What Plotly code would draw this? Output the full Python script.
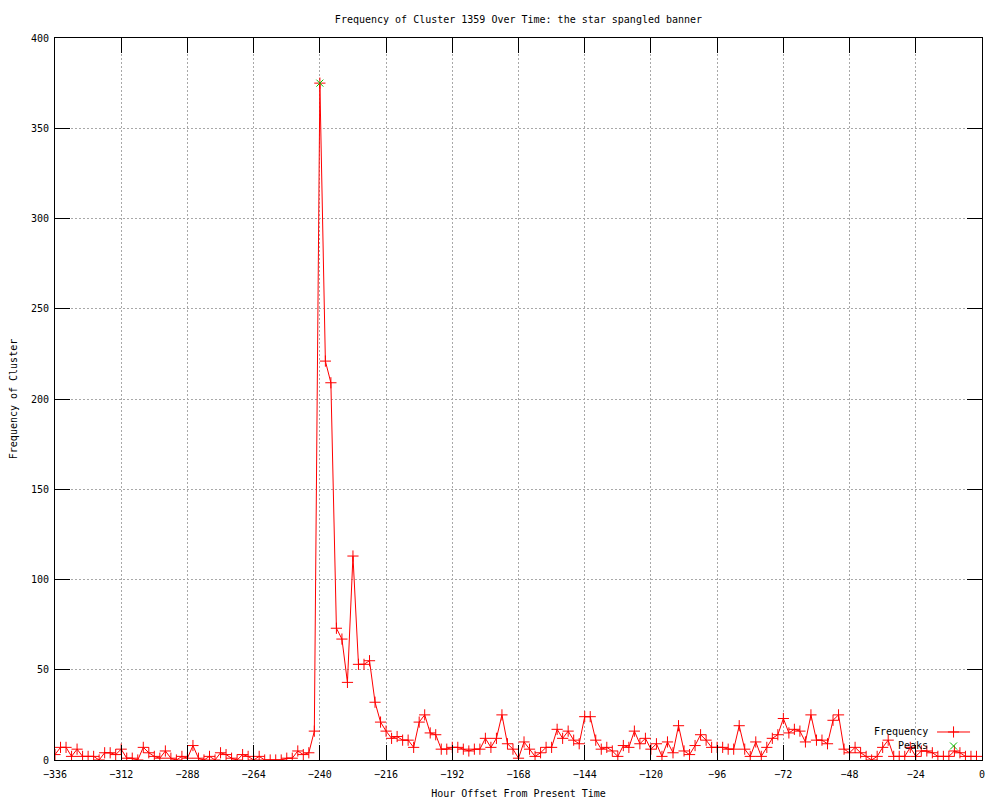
import plotly.graph_objects as go

# hour offsets (2-hour bins) and cluster counts
hours = list(range(-336, 0, 2))
freq = [3, 7, 7, 2, 6, 2, 2, 2, 0, 4, 4, 3, 6, 1, 1, 0, 7, 4, 2, 1,
        5, 1, 0, 2, 1, 8, 1, 0, 2, 0, 4, 3, 1, 0, 3, 2, 0, 2, 0, 0,
        0, 0, 1, 1, 5, 3, 4, 16, 375, 221, 209, 73, 67, 43, 113, 53, 53, 55, 32, 21,
        16, 12, 13, 11, 11, 7, 21, 25, 15, 14, 6, 6, 7, 7, 6, 5, 6, 6, 12, 7,
        12, 25, 9, 6, 1, 10, 6, 2, 4, 7, 7, 17, 12, 16, 11, 9, 24, 24, 11, 6,
        7, 5, 2, 8, 7, 16, 9, 12, 6, 9, 2, 10, 4, 19, 5, 3, 8, 14, 11, 7,
        7, 7, 6, 6, 19, 6, 2, 10, 2, 7, 12, 14, 23, 15, 17, 16, 10, 25, 11, 11,
        9, 22, 25, 6, 4, 7, 4, 2, 0, 2, 7, 11, 2, 2, 2, 7, 2, 5, 5, 4,
        2, 2, 2, 5, 4, 2, 2, 2]

peak_hours = [-240]
peak_freq = [375]

x_ticks = list(range(-336, 1, 24))
y_ticks = list(range(0, 401, 50))

FONT = "DejaVu Sans Mono"
RED = "#ff0000"
GREEN = "#00c000"

red_plus = dict(symbol="cross-thin-open", size=8, color=RED, line=dict(color=RED, width=1))
green_x = dict(symbol="x-thin-open", size=7, color=GREEN, line=dict(color=GREEN, width=1))

fig = go.Figure()

fig.add_trace(go.Scatter(
    x=hours, y=freq, mode="lines+markers", name="Frequency",
    line=dict(color=RED, width=1), marker=red_plus, showlegend=False))

fig.add_trace(go.Scatter(
    x=peak_hours, y=peak_freq, mode="markers", name="Peaks",
    marker=green_x, showlegend=False))

# gnuplot-style key: text on the left, sample on the right (paper coords on hidden axes)
key_y = [0.0388, 0.0194]
key_x0, key_x1 = 0.9515, 0.9871
key_mid = (key_x0 + key_x1) / 2
fig.add_trace(go.Scatter(
    x=[key_x0, key_mid, key_x1], y=[key_y[0]] * 3, xaxis="x2", yaxis="y2",
    mode="lines", line=dict(color=RED, width=1), showlegend=False,
    hoverinfo="skip", cliponaxis=False))
fig.add_trace(go.Scatter(
    x=[key_mid], y=[key_y[0]], xaxis="x2", yaxis="y2", mode="markers",
    marker=red_plus, showlegend=False, hoverinfo="skip", cliponaxis=False))
fig.add_trace(go.Scatter(
    x=[key_mid], y=[key_y[1]], xaxis="x2", yaxis="y2", mode="markers",
    marker=green_x, showlegend=False, hoverinfo="skip", cliponaxis=False))

for label, ky in zip(["Frequency", "Peaks"], key_y):
    fig.add_annotation(x=0.9439, y=ky, xref="paper", yref="paper", text=label,
                       showarrow=False, xanchor="right", yanchor="middle",
                       font=dict(family=FONT, size=10, color="black"))

axis_common = dict(
    showline=True, linecolor="black", linewidth=1, mirror="ticks",
    ticks="inside", ticklen=15, tickcolor="black", tickwidth=1,
    showgrid=True, gridcolor="#a8a8a8", gridwidth=1, griddash="2px,2px",
    zeroline=False, automargin=False,
    tickfont=dict(family=FONT, size=10, color="black"),
)

# the page body adds an 8px offset, so the margins are shifted to compensate
fig.update_layout(
    width=1000, height=800,
    paper_bgcolor="white", plot_bgcolor="white",
    margin=dict(l=47, r=26, t=30, b=48, autoexpand=False),
    font=dict(family=FONT, size=10, color="black"),
    title=dict(text="Frequency of Cluster 1359 Over Time: the star spangled banner",
               x=0.5, xref="paper", xanchor="center", y=1 - 11 / 800, yanchor="middle",
               font=dict(family=FONT, size=10, color="black")),
    xaxis=dict(range=[-336, 0], tickvals=x_ticks, ticklabelstandoff=5,
               title=dict(text="Hour Offset From Present Time", standoff=10,
                          font=dict(family=FONT, size=10)),
               **axis_common),
    yaxis=dict(range=[0, 400], tickvals=y_ticks, ticklabelstandoff=3,
               title=dict(text="Frequency of Cluster", standoff=12,
                          font=dict(family=FONT, size=10)),
               **axis_common),
    xaxis2=dict(range=[0, 1], overlaying="x", visible=False),
    yaxis2=dict(range=[0, 1], overlaying="y", visible=False),
    showlegend=False,
)

fig.write_html("out.html")
